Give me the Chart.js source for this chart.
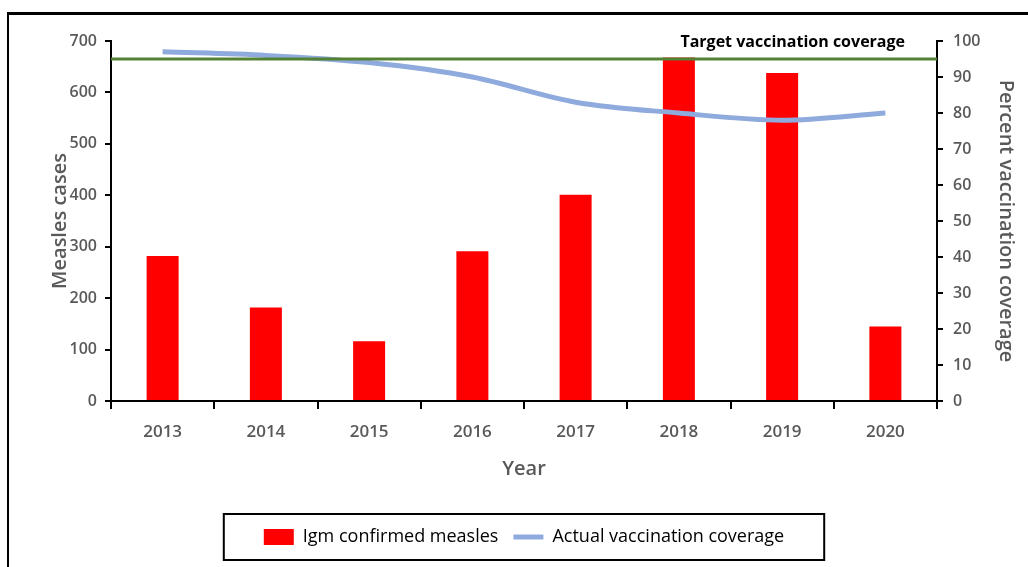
<!DOCTYPE html>
<html>
<head>
<meta charset="utf-8">
<script src="https://cdn.jsdelivr.net/npm/chart.js@4"></script>
<style>
  html, body { margin: 0; padding: 0; background: #fff; }
  #wrap { position: relative; width: 1028px; height: 567px; overflow: hidden; }
  #frame { position: absolute; left: 7px; top: 12px; width: 1100px; height: 700px;
           border-left: 2px solid #000; border-top: 3px solid #000; pointer-events: none; }
  canvas { position: absolute; left: 0; top: 0; }
</style>
</head>
<body>
<div id="wrap">
  <canvas id="measles-chart" width="1028" height="567"></canvas>
  <div id="frame"></div>
</div>
<script>
const years = ["2013", "2014", "2015", "2016", "2017", "2018", "2019", "2020"];
const igm_cases = [282, 182, 116, 291, 401, 668, 638, 145];
const actual_coverage = [97, 96, 94, 90, 83, 80, 78, 80];
const target_coverage = 95;
const target_label = "Target vaccination coverage";

const grey = "#595959";
const font_family = "'Open Sans', 'DejaVu Sans', sans-serif";

// target line + its label, drawn on top of the bars
const target_plugin = {
    id: "target_line",
    afterDatasetsDraw(chart) {
        const {ctx, chartArea} = chart;
        const y = chart.scales.y1.getPixelForValue(target_coverage);
        ctx.save();
        ctx.strokeStyle = "#548235";
        ctx.lineWidth = 3;
        ctx.beginPath();
        ctx.moveTo(chartArea.left, y);
        ctx.lineTo(chartArea.right, y);
        ctx.stroke();
        ctx.fillStyle = "#000";
        ctx.font = "bold 16px " + font_family;
        ctx.textAlign = "right";
        ctx.textBaseline = "middle";
        ctx.fillText(target_label, chartArea.right - 32, chartArea.top + 1);
        ctx.restore();
    }
};

// box around the legend
const legend_border_plugin = {
    id: "legend_border",
    afterDraw(chart) {
        const boxes = chart.legend.legendHitBoxes;
        if (!boxes || !boxes.length) return;
        const left = Math.min(...boxes.map((b) => b.left)) - 40;
        const right = Math.max(...boxes.map((b) => b.left + b.width)) + 40;
        const mid = boxes[0].top + boxes[0].height / 2;
        const {ctx} = chart;
        ctx.save();
        ctx.strokeStyle = "#000";
        ctx.lineWidth = 2;
        ctx.strokeRect(left, mid - 23, right - left, 46);
        ctx.restore();
    }
};

const chart_el = document.getElementById("measles-chart");

new Chart(chart_el, {
    data: {
        labels: years,
        datasets: [{
            type: "line",
            label: "Actual vaccination coverage",
            data: actual_coverage,
            yAxisID: "y1",
            borderColor: "#8FAADC",
            backgroundColor: "#8FAADC",
            borderWidth: 5,
            pointRadius: 0,
            tension: 0.4,
            cubicInterpolationMode: "monotone",
            pointStyle: "line",
            order: 0
        }, {
            type: "bar",
            label: "Igm confirmed measles",
            data: igm_cases,
            yAxisID: "y",
            backgroundColor: "#FF0000",
            borderWidth: 0,
            barPercentage: 0.31,
            categoryPercentage: 1,
            pointStyle: "rect",
            order: 1
        }]
    },
    options: {
        responsive: false,
        animation: false,
        layout: {padding: {left: 20, right: 0, top: 41, bottom: 11}},
        plugins: {
            tooltip: {enabled: false},
            legend: {
                position: "bottom",
                reverse: true,
                labels: {
                    usePointStyle: true,
                    pointStyleWidth: 30,
                    boxHeight: 16,
                    padding: 15,
                    color: "#000",
                    font: {family: font_family, size: 18}
                }
            }
        },
        scales: {
            x: {
                offset: true,
                grid: {offset: true, drawOnChartArea: false, color: "#000", tickLength: 8, lineWidth: 2},
                border: {color: "#000", width: 2},
                ticks: {color: grey, padding: 13, font: {family: font_family, size: 17, weight: "600"}},
                title: {display: true, text: "Year", color: grey, padding: {top: 0, bottom: 32},
                        font: {family: font_family, size: 20, weight: "600"}},
                afterFit(scale) { scale.height = 112; }
            },
            y: {
                position: "left",
                min: 0,
                max: 700,
                ticks: {stepSize: 100, color: grey, padding: 8, font: {family: font_family, size: 16, weight: "600"}},
                grid: {drawOnChartArea: false, color: "#000", tickLength: 6, lineWidth: 2},
                border: {color: "#000", width: 2},
                title: {display: true, text: "Measles cases", color: grey, padding: {top: 28, bottom: 0},
                        font: {family: font_family, size: 20, weight: "600"}},
                afterFit(scale) { scale.width = 91; }
            },
            y1: {
                position: "right",
                min: 0,
                max: 100,
                ticks: {stepSize: 10, color: grey, padding: 10, font: {family: font_family, size: 16, weight: "600"}},
                grid: {drawOnChartArea: false, color: "#000", tickLength: 6, lineWidth: 2},
                border: {color: "#000", width: 2},
                title: {display: true, text: "Percent vaccination coverage", color: grey,
                        padding: {top: 10, bottom: 0}, font: {family: font_family, size: 20, weight: "600"}},
                afterFit(scale) { scale.width = 91; }
            }
        }
    },
    plugins: [target_plugin, legend_border_plugin]
});
</script>
</body>
</html>
